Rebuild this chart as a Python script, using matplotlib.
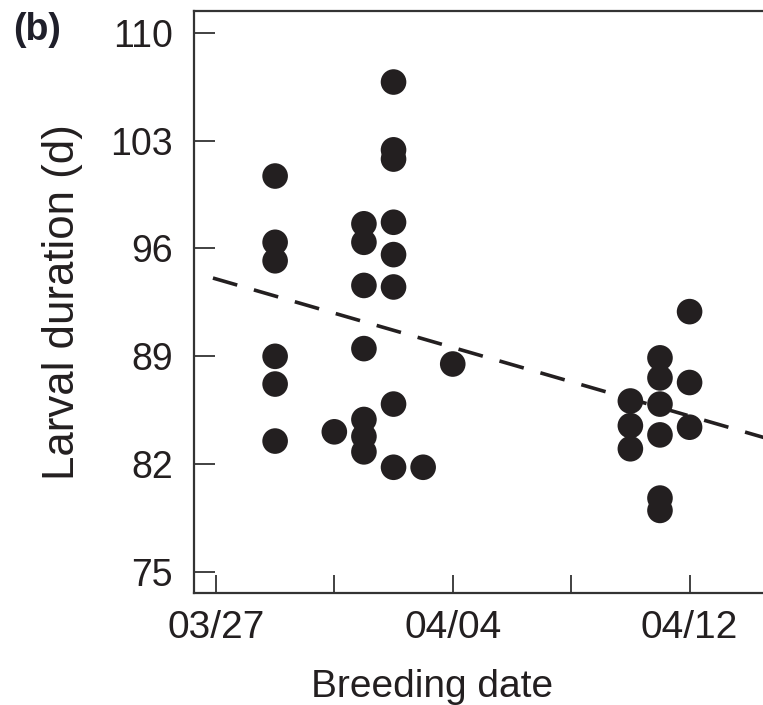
import matplotlib
matplotlib.use("Agg")
import matplotlib.pyplot as plt

# days after 03/27 and larval duration (d)
days = [2, 2, 2, 2, 2, 2,
        4,
        5, 5, 5, 5, 5, 5, 5,
        6, 6, 6, 6, 6, 6, 6, 6,
        7,
        8,
        14, 14, 14,
        15, 15, 15, 15, 15, 15,
        16, 16, 16]
duration = [100.7, 96.4, 95.2, 89.0, 87.2, 83.5,
            84.1,
            97.6, 96.4, 93.6, 89.5, 84.9, 83.8, 82.8,
            106.8, 102.4, 101.8, 97.7, 95.6, 93.5, 85.9, 81.8,
            81.8,
            88.5,
            86.1, 84.5, 83.0,
            88.9, 87.6, 85.9, 83.9, 79.8, 79.0,
            91.9, 87.3, 84.4]

# dashed regression line end points
trend_days = [-0.1, 18.6]
trend_vals = [94.08, 83.68]

tick_days = [0, 4, 8, 12, 16]
tick_labels = ["03/27", "", "04/04", "", "04/12"]
y_ticks = [75, 82, 89, 96, 103, 110]

ink = "#231f20"
plt.rcParams["font.family"] = ["Liberation Sans", "DejaVu Sans"]

fig = plt.figure(figsize=(7.63, 7.05), dpi=100)
ax = fig.add_axes([194 / 763, 1 - 593 / 705, 1 - 194 / 763, (593 - 11) / 705])

ax.scatter(days, duration, s=340, color=ink, edgecolors="none", zorder=3)
ax.plot(trend_days, trend_vals, color=ink, linewidth=2.6, dashes=(7, 4.8), zorder=2)

ax.set_xlim(-0.74, 18.48)
ax.set_ylim(73.64, 111.41)
ax.set_xticks(tick_days)
ax.set_xticklabels(tick_labels)
ax.set_yticks(y_ticks)

for side in ["left", "bottom", "top"]:
    ax.spines[side].set_linewidth(1.6)
    ax.spines[side].set_color("#333333")
ax.spines["right"].set_visible(False)

ax.tick_params(axis="both", direction="in", width=1.3, color="#333333",
               labelsize=27, labelcolor=ink)
ax.tick_params(axis="x", labelsize=28)
ax.tick_params(axis="y", length=15, pad=15)
ax.tick_params(axis="x", length=13, pad=12)

ax.set_xlabel("Breeding date", fontsize=28, color=ink)
ax.xaxis.set_label_coords((431.7 - 194) / 569, -0.13)
ax.set_ylabel("Larval duration (d)", fontsize=31.5, color=ink)
ax.yaxis.set_label_coords((83 - 194) / 569, 0.5)

fig.text(37 / 763, 1 - 30 / 705, "(b)", fontsize=27, fontweight="bold",
         color="#1f1f2a", ha="center", va="center")

fig.savefig("out.png", dpi=100)
